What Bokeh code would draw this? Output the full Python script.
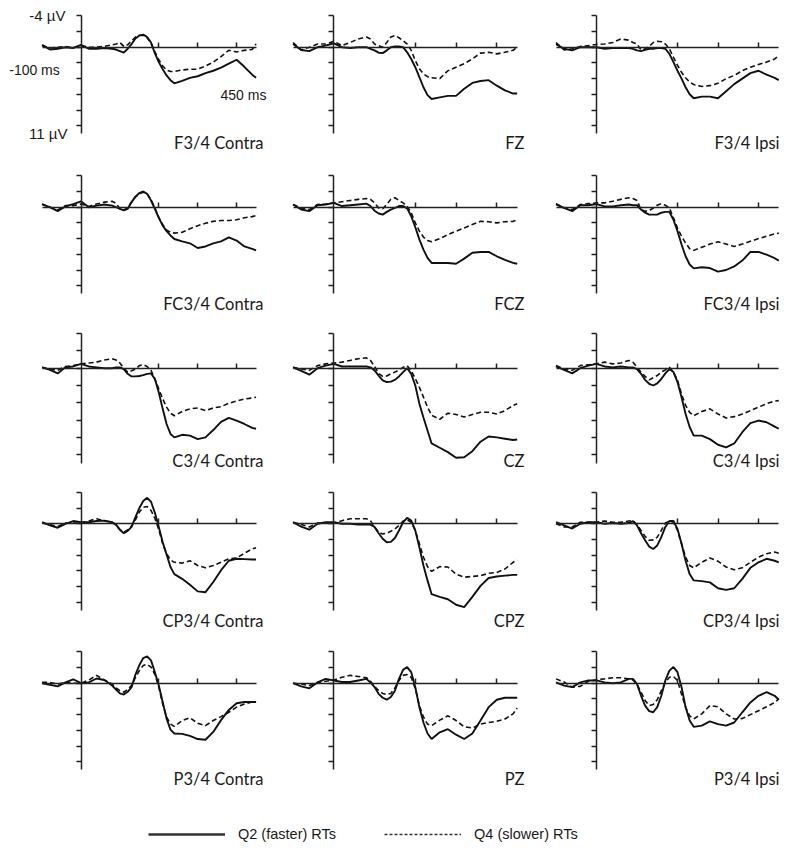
from bokeh.plotting import figure
from bokeh.models import Range1d, LinearAxis, FixedTicker, Label, Legend, LegendItem
from bokeh.layouts import row, column
from bokeh.embed import file_html
from bokeh.resources import INLINE

# ---------------- data (ms, µV; positive plotted downward) ----------------
t_ms = [-100, -80, -60, -40, -20, 0, 20, 40, 60, 80,
        90, 100, 110, 120, 130, 140, 150, 160, 170, 180, 190, 200, 210, 220, 230, 240,
        260, 280, 300, 320, 340, 360, 380, 400, 420, 440, 450]

f34_contra_q2 = [-0.3, 0.3, 0.2, 0.0, 0.1, -0.3, 0.2, 0.2, 0.1, 0.2, 0.3, 0.5, 0.7, 0.2, -0.4, -1.1, -1.5, -1.6, -1.3, -0.6, 0.8, 1.9, 2.8, 3.6, 4.2, 4.6, 4.3, 3.9, 3.7, 3.3, 3.0, 2.6, 2.1, 1.6, 2.5, 3.5, 3.9]
f34_contra_q4 = [-0.2, 0.1, 0.0, -0.1, 0.1, -0.2, 0.0, 0.0, -0.1, -0.3, -0.4, -0.6, -0.1, -0.3, -0.8, -1.3, -1.5, -1.5, -1.2, -0.5, 0.6, 1.6, 2.4, 2.9, 3.1, 3.1, 2.9, 2.8, 2.8, 2.4, 1.9, 1.2, 0.4, 0.6, 0.4, 0.3, -0.4]
fz_q2 = [-0.4, 0.35, 0.5, 0.0, -0.2, -0.5, 0.0, 0.1, 0.0, 0.0, 0.2, 0.4, 0.7, 0.75, 0.4, 0.0, -0.1, -0.1, 0.0, 0.65, 1.5, 2.55, 3.8, 5.1, 6.1, 6.6, 6.4, 6.2, 6.2, 5.3, 4.55, 4.3, 4.2, 4.9, 5.5, 5.9, 5.9]
fz_q4 = [-0.6, 0.35, 0.0, -0.4, -0.4, -0.75, -0.2, -0.6, -1.05, -1.3, -1.05, -0.4, -0.2, 0.0, -0.6, -1.3, -1.5, -1.2, -0.85, -0.4, 0.4, 1.7, 2.75, 3.4, 3.75, 3.9, 4.0, 3.0, 2.55, 2.1, 1.5, 0.75, 0.65, 0.85, 0.65, 0.4, 0.0]
f34_ipsi_q2 = [-0.4, 0.2, 0.4, 0.0, 0.0, 0.0, 0.2, 0.1, 0.1, 0.1, 0.2, 0.4, 0.5, 0.35, 0.2, 0.2, 0.1, 0.1, 0.2, 0.85, 1.9, 3.0, 4.0, 5.1, 6.0, 6.5, 6.3, 6.3, 6.5, 5.6, 4.7, 4.0, 3.3, 3.0, 3.5, 3.9, 4.2]
f34_ipsi_q4 = [-0.6, 0.35, 0.2, -0.1, -0.2, -0.35, -0.4, -0.6, -1.05, -0.9, -0.6, -0.4, 0.35, 0.2, -0.1, -0.6, -0.75, -0.7, -0.4, 0.2, 1.3, 2.3, 3.2, 3.9, 4.45, 4.75, 5.0, 4.9, 4.6, 4.0, 3.6, 3.0, 2.55, 2.2, 1.9, 1.5, 1.05]

fc34_contra_q2 = [-0.35, 0.0, 0.5, -0.1, -0.4, -0.75, 0.0, -0.2, -0.35, -0.2, 0.0, 0.2, 0.4, 0.2, -0.65, -1.35, -1.8, -2.0, -1.7, -0.85, 0.2, 1.35, 2.35, 3.05, 3.6, 4.05, 4.35, 4.6, 5.2, 5.0, 4.6, 4.35, 3.85, 4.25, 5.0, 5.3, 5.5]
fc34_contra_q4 = [-0.4, 0.0, 0.35, -0.2, -0.2, -0.4, -0.1, -0.4, -0.65, -0.75, -0.5, 0.2, 0.35, 0.1, -0.65, -1.3, -1.7, -1.9, -1.7, -0.95, 0.1, 1.3, 2.2, 2.9, 3.2, 3.3, 3.2, 2.75, 2.35, 2.05, 1.8, 1.7, 1.7, 1.6, 1.35, 1.2, 1.05]
fcz_q2 = [-0.35, 0.3, 0.5, -0.25, -0.35, -0.55, -0.15, -0.25, -0.35, -0.45, -0.15, 0.45, 0.8, 0.95, 0.6, 0.3, 0.1, -0.15, -0.15, 0.15, 1.15, 2.55, 4.1, 5.4, 6.45, 7.1, 7.1, 7.1, 7.2, 6.55, 5.8, 5.7, 5.7, 6.25, 6.7, 7.1, 7.2]
fcz_q4 = [-0.35, 0.1, 0.3, -0.35, -0.4, -0.55, -0.7, -0.85, -1.0, -1.1, -1.0, -0.55, 0.1, 0.2, -0.35, -1.0, -1.2, -0.85, -0.55, -0.1, 0.7, 2.0, 3.05, 3.8, 4.25, 4.4, 4.0, 3.5, 3.05, 2.65, 2.2, 1.8, 1.85, 2.0, 1.85, 1.8, 1.6]
fc34_ipsi_q2 = [-0.35, 0.1, 0.5, -0.25, -0.25, -0.4, -0.1, -0.1, -0.25, -0.35, -0.25, -0.25, 0.3, 0.7, 0.95, 0.95, 0.95, 0.7, 0.6, 0.6, 1.6, 3.05, 4.75, 6.25, 7.3, 7.8, 7.65, 7.75, 8.2, 8.0, 7.55, 6.8, 5.7, 5.7, 6.05, 6.5, 6.8]
fc34_ipsi_q4 = [-0.45, 0.1, 0.3, -0.35, -0.45, -0.55, -0.55, -0.75, -1.0, -1.2, -1.1, -0.85, 0.3, 0.5, 0.45, 0.1, -0.25, -0.45, -0.25, 0.1, 1.35, 2.65, 3.7, 4.55, 5.3, 5.5, 5.1, 4.7, 4.4, 4.7, 5.0, 4.7, 4.35, 4.0, 3.7, 3.4, 3.3]

c34_contra_q2 = [-0.1, 0.2, 0.6, -0.1, -0.2, -0.5, -0.2, -0.1, 0.0, 0.0, -0.1, -0.1, 0.1, 0.65, 0.95, 0.95, 0.9, 0.8, 0.65, 0.6, 1.25, 2.8, 4.7, 6.45, 7.6, 8.0, 7.7, 7.8, 8.2, 8.0, 7.15, 6.2, 5.75, 6.05, 6.45, 6.9, 7.0]
c34_contra_q4 = [-0.1, 0.1, 0.25, -0.2, -0.3, -0.5, -0.6, -0.7, -0.95, -1.1, -0.95, -0.6, 0.0, 0.45, 0.3, 0.1, -0.3, -0.4, -0.2, 0.25, 1.25, 2.4, 3.55, 4.5, 5.2, 5.5, 5.0, 4.7, 4.6, 4.9, 4.6, 4.45, 4.05, 3.8, 3.55, 3.45, 3.35]
cz_q2 = [-0.1, 0.3, 0.75, 0.0, -0.3, -0.5, -0.2, -0.2, -0.2, -0.2, -0.1, 0.25, 0.85, 1.4, 1.6, 1.55, 1.35, 0.95, 0.45, 0.0, 0.65, 2.0, 4.1, 5.7, 7.2, 8.7, 9.2, 9.7, 10.35, 10.3, 9.6, 8.5, 7.9, 8.0, 8.15, 8.3, 8.25]
cz_q4 = [-0.1, 0.1, 0.25, -0.3, -0.5, -0.6, -0.7, -0.9, -1.1, -1.2, -0.9, -0.2, 0.6, 0.95, 0.9, 0.65, 0.45, 0.2, -0.1, -0.3, 0.3, 1.2, 2.2, 3.35, 4.5, 5.45, 5.9, 5.2, 5.35, 5.65, 5.35, 5.1, 5.1, 5.3, 4.9, 4.3, 4.1]
c34_ipsi_q2 = [-0.2, 0.2, 0.6, 0.0, -0.3, -0.5, -0.2, -0.1, -0.2, -0.1, -0.1, 0.1, 0.65, 1.35, 1.8, 2.0, 1.75, 1.25, 0.6, 0.1, 0.45, 1.6, 3.35, 5.3, 6.8, 7.8, 7.8, 8.2, 8.85, 9.15, 8.7, 7.4, 6.35, 6.05, 6.25, 6.75, 7.0]
c34_ipsi_q4 = [-0.3, 0.1, 0.25, -0.3, -0.4, -0.5, -0.7, -0.5, -0.6, -0.9, -0.7, -0.1, 0.45, 0.95, 1.35, 1.1, 0.85, 0.45, 0.2, -0.1, 0.45, 1.4, 3.0, 4.3, 5.1, 5.5, 5.0, 4.7, 5.3, 5.75, 5.6, 5.3, 4.9, 4.5, 4.1, 3.8, 3.75]

cp34_contra_q2 = [-0.2, 0.2, 0.5, 0.0, -0.35, -0.2, -0.2, -0.35, -0.4, -0.2, 0.1, 0.75, 1.2, 0.9, 0.4, -0.85, -2.0, -2.9, -3.3, -2.8, -1.4, 0.4, 2.35, 3.9, 5.5, 6.4, 7.0, 7.75, 8.6, 8.7, 7.4, 5.9, 4.7, 4.45, 4.5, 4.55, 4.55]
cp34_contra_q4 = [-0.1, 0.1, 0.35, -0.1, -0.1, -0.1, -0.35, -0.65, -0.35, -0.2, 0.2, 0.75, 1.05, 0.8, 0.3, -0.5, -1.5, -2.1, -2.2, -1.7, -0.7, 0.75, 2.55, 3.8, 4.6, 4.9, 5.0, 4.7, 5.3, 5.6, 5.3, 4.9, 4.45, 4.35, 3.75, 3.2, 3.05]
cpz_q2 = [-0.2, 0.35, 0.75, 0.0, -0.2, -0.2, 0.0, 0.0, 0.1, 0.1, 0.1, 0.4, 1.2, 1.9, 2.35, 2.3, 1.8, 0.85, -0.2, -0.75, -0.4, 0.85, 3.0, 5.3, 7.2, 8.95, 9.3, 9.6, 10.3, 10.6, 9.3, 7.9, 6.9, 6.7, 6.6, 6.5, 6.5]
cpz_q4 = [-0.2, 0.1, 0.4, -0.1, -0.1, -0.1, -0.4, -0.65, -0.65, -0.65, -0.4, 0.4, 1.05, 1.3, 1.2, 0.95, 0.65, 0.2, -0.35, -0.5, -0.2, 0.85, 2.55, 4.25, 5.45, 6.05, 5.45, 5.5, 6.4, 6.8, 6.7, 6.6, 6.3, 6.2, 5.75, 4.9, 4.6]
cp34_ipsi_q2 = [-0.2, 0.2, 0.6, 0.0, -0.2, -0.2, 0.0, -0.1, 0.0, -0.1, -0.35, 0.2, 1.2, 2.1, 2.9, 3.2, 2.75, 1.7, 0.4, -0.35, -0.35, 0.65, 2.55, 4.7, 6.4, 7.2, 7.3, 7.45, 8.2, 8.4, 8.2, 7.0, 5.6, 4.9, 4.45, 4.7, 4.9]
cp34_ipsi_q4 = [0.0, 0.4, 0.4, -0.2, -0.2, -0.2, -0.35, -0.2, -0.2, -0.35, -0.4, 0.1, 0.85, 1.6, 2.1, 2.05, 1.7, 0.85, -0.1, -0.35, -0.2, 0.85, 2.55, 4.25, 5.3, 5.6, 4.9, 4.35, 4.75, 5.5, 5.85, 5.6, 4.9, 4.25, 3.8, 3.6, 3.75]

p34_contra_q2 = [0.0, 0.2, 0.4, -0.1, -0.5, 0.0, -0.1, -0.6, -0.4, 0.3, 0.8, 1.3, 1.45, 1.1, 0.5, -1.1, -2.3, -3.2, -3.4, -2.9, -1.4, 0.3, 2.4, 4.5, 5.9, 6.4, 6.45, 6.7, 7.1, 7.2, 6.2, 4.7, 3.4, 2.55, 2.4, 2.4, 2.4]
p34_contra_q4 = [-0.1, -0.1, 0.1, -0.1, 0.0, 0.0, -0.4, -1.0, -0.4, 0.1, 0.6, 0.95, 1.15, 0.8, 0.3, -0.75, -1.6, -2.25, -2.4, -2.05, -1.1, 0.5, 2.65, 4.3, 5.2, 5.5, 4.75, 4.4, 5.1, 5.4, 4.75, 4.25, 3.7, 3.05, 2.65, 2.4, 2.4]
pz_q2 = [0.0, 0.4, 0.65, -0.1, -0.55, -0.35, -0.15, -0.15, -0.35, -0.55, -0.1, 0.5, 1.35, 1.85, 2.1, 1.75, 0.95, -0.55, -1.7, -2.05, -1.4, 0.5, 3.05, 5.0, 6.4, 7.1, 6.25, 5.85, 6.55, 7.1, 6.4, 4.75, 3.05, 2.1, 1.85, 1.85, 1.85]
pz_q4 = [0.0, 0.1, 0.3, -0.1, -0.25, -0.4, -0.75, -1.0, -0.85, -0.7, -0.25, 0.4, 0.95, 1.3, 1.45, 1.3, 0.6, -0.35, -1.0, -1.1, -0.75, 0.7, 2.85, 4.3, 5.2, 5.4, 4.7, 4.15, 4.75, 5.55, 5.7, 5.2, 5.0, 4.85, 4.55, 3.9, 3.15]
p34_ipsi_q2 = [-0.1, 0.3, 0.5, -0.1, -0.35, -0.35, -0.1, 0.0, -0.1, -0.55, -0.55, 0.1, 1.6, 2.85, 3.55, 3.7, 3.05, 1.6, -0.35, -1.6, -2.05, -1.4, 0.5, 3.05, 4.75, 5.55, 5.4, 4.85, 5.2, 5.4, 5.0, 3.7, 2.45, 1.6, 1.15, 1.6, 2.1]
p34_ipsi_q4 = [-0.55, -0.15, 0.5, 0.4, -0.25, -0.45, -0.55, -0.7, -0.7, -0.55, -0.4, 0.15, 1.15, 2.2, 2.85, 2.7, 2.1, 0.95, -0.1, -0.75, -0.85, -0.35, 1.4, 3.05, 4.15, 4.55, 3.9, 2.85, 3.0, 3.9, 4.55, 4.5, 4.0, 3.5, 3.0, 2.45, 2.0]

panel_names = [["F3/4 Contra", "FZ", "F3/4 Ipsi"],
               ["FC3/4 Contra", "FCZ", "FC3/4 Ipsi"],
               ["C3/4 Contra", "CZ", "C3/4 Ipsi"],
               ["CP3/4 Contra", "CPZ", "CP3/4 Ipsi"],
               ["P3/4 Contra", "PZ", "P3/4 Ipsi"]]
panel_q2 = [[f34_contra_q2, fz_q2, f34_ipsi_q2],
            [fc34_contra_q2, fcz_q2, fc34_ipsi_q2],
            [c34_contra_q2, cz_q2, c34_ipsi_q2],
            [cp34_contra_q2, cpz_q2, cp34_ipsi_q2],
            [p34_contra_q2, pz_q2, p34_ipsi_q2]]
panel_q4 = [[f34_contra_q4, fz_q4, f34_ipsi_q4],
            [fc34_contra_q4, fcz_q4, fc34_ipsi_q4],
            [c34_contra_q4, cz_q4, c34_ipsi_q4],
            [cp34_contra_q4, cpz_q4, cp34_ipsi_q4],
            [p34_contra_q4, pz_q4, p34_ipsi_q4]]

y_ticks = [-4, -2, 0, 2, 4, 6, 8, 10]
x_ticks = [200, 300, 400]
series_labels = ["Q2 (faster) RTs", "Q4 (slower) RTs"]

for rr in range(5):
    for cc in range(3):
        assert len(panel_q2[rr][cc]) == len(t_ms), (rr, cc, "q2")
        assert len(panel_q4[rr][cc]) == len(t_ms), (rr, cc, "q4")

# ---------------- layout (pixels in the picture) ----------------
col_left = [0, 270, 530]
col_right = [270, 530, 782]
col_zero_x = [80.5, 333.3, 596.0]
col_px_per_ms = [0.389, 0.4075, 0.405]
label_right_x = [263, 524, 779]

row_top = [0, 162, 321, 479, 639]
row_bottom = [162, 321, 479, 639, 800]
row_zero_y = [46.7, 206.7, 367.7, 523.3, 682.7]
row_px_per_uv = [7.85, 7.85, 8.65, 7.86, 7.86]
label_y = [142, 303.3, 460, 620, 778.3]
legend_height = 42

INK = "#111111"
AXIS = "#222222"
LABEL_FONT = "Lato"
SANS = "Liberation Sans"


def px_to_x(c, px):
    return (px - col_zero_x[c]) / col_px_per_ms[c]


def px_to_y(r, py):
    return (py - row_zero_y[r]) / row_px_per_uv[r]


rows = []
for r in range(5):
    figs = []
    for c in range(3):
        w = col_right[c] - col_left[c]
        h = row_bottom[r] - row_top[r]
        p = figure(width=w, height=h, output_backend="svg", toolbar_location=None,
                   x_axis_type=None, y_axis_type=None,
                   x_range=Range1d(px_to_x(c, col_left[c]), px_to_x(c, col_right[c])),
                   y_range=Range1d(px_to_y(r, row_bottom[r]), px_to_y(r, row_top[r])),
                   min_border=0)
        p.grid.visible = False
        p.outline_line_color = None
        p.background_fill_color = "white"
        p.border_fill_color = "white"

        p.line(t_ms, panel_q2[r][c], line_color=INK, line_width=1.9)
        p.line(t_ms, panel_q4[r][c], line_color=INK, line_width=1.6, line_dash="5 3")

        yax = LinearAxis(fixed_location=0, bounds=(-4, 11),
                         ticker=FixedTicker(ticks=y_ticks, minor_ticks=[]),
                         major_tick_out=5, major_tick_in=0,
                         minor_tick_out=0, minor_tick_in=0,
                         axis_line_color=AXIS, axis_line_width=1.5,
                         major_tick_line_color=AXIS, major_tick_line_width=1.5,
                         major_label_text_font_size="1px", major_label_text_color=None)
        p.add_layout(yax, "left")
        xax = LinearAxis(fixed_location=0, bounds=(-100, 450),
                         ticker=FixedTicker(ticks=x_ticks, minor_ticks=[]),
                         major_tick_out=0, major_tick_in=5,
                         minor_tick_out=0, minor_tick_in=0,
                         axis_line_color=AXIS, axis_line_width=1.5,
                         major_tick_line_color=AXIS, major_tick_line_width=1.5,
                         major_label_text_font_size="1px", major_label_text_color=None)
        p.add_layout(xax, "below")

        p.add_layout(Label(x=px_to_x(c, label_right_x[c]), y=px_to_y(r, label_y[r]),
                           text=panel_names[r][c], text_align="right", text_baseline="middle",
                           text_font=LABEL_FONT, text_font_size="16.5px", text_color="#1a1a1a"))

        if r == 0 and c == 0:
            for txt, px, py, al, fs in [("-4 µV", 65, 15, "right", "15px"),
                                        ("11 µV", 67, 133, "right", "15px"),
                                        ("-100 ms", 34, 69, "center", "14px"),
                                        ("450 ms", 243, 94, "center", "14px")]:
                p.add_layout(Label(x=px_to_x(0, px), y=px_to_y(0, py), text=txt,
                                   text_align=al, text_baseline="middle",
                                   text_font=SANS, text_font_size=fs, text_color="#1a1a1a"))
        figs.append(p)
    rows.append(row(*figs))

# legend strip
lf = figure(width=col_right[2] - col_left[0], height=legend_height, output_backend="svg",
            toolbar_location=None, x_axis_type=None, y_axis_type=None,
            x_range=Range1d(0, 1), y_range=Range1d(0, 1), min_border=0)
lf.grid.visible = False
lf.outline_line_color = None
lf.border_fill_color = "white"
lf.background_fill_color = "white"
# renderers only serve as legend keys (their data lie outside the visible range)
r_solid = lf.line([2, 3], [2, 2], line_color="#333333", line_width=2.5)
r_dash = lf.line([2, 3], [2, 2], line_color="#333333", line_width=1.5, line_dash="3 2")
leg = Legend(items=[LegendItem(label=series_labels[0], renderers=[r_solid]),
                    LegendItem(label=series_labels[1], renderers=[r_dash])],
             orientation="horizontal", location=(148, 0),
             glyph_width=77, glyph_height=12, label_height=12, label_standoff=13, spacing=48,
             padding=0, margin=0, border_line_color=None, background_fill_alpha=0,
             label_text_font=SANS, label_text_font_size="14.5px", label_text_color="#1a1a1a")
lf.add_layout(leg)

layout = column(*rows, lf)
open("out.html", "w").write(file_html(layout, INLINE))
